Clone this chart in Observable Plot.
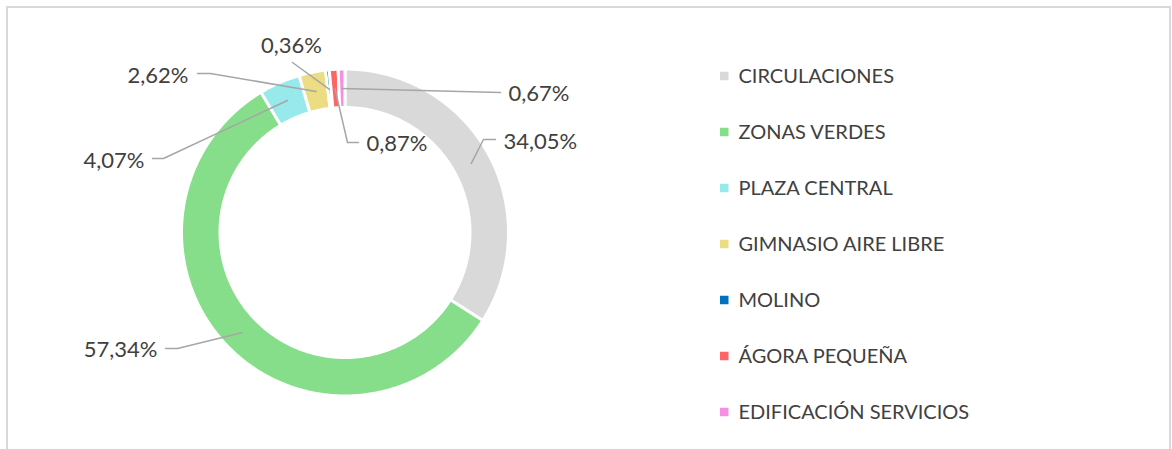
<!DOCTYPE html>
<html><head><meta charset="utf-8">
<script src="https://cdn.jsdelivr.net/npm/d3@7"></script>
<script src="https://cdn.jsdelivr.net/npm/@observablehq/plot@0.6"></script>
<style>
html,body{margin:0;padding:0;background:#fff;}
#chart{position:relative;width:1172px;height:449px;overflow:hidden;background:#fff;}
#frame{position:absolute;left:6px;top:6px;width:1165px;height:460px;border:2px solid #d9d9d9;box-sizing:border-box;}
#chart svg{position:absolute;left:0;top:0;}
</style></head><body>
<div id="chart"><div id="frame"></div></div>
<script>
// ---- data ----
const categories = ["CIRCULACIONES","ZONAS VERDES","PLAZA CENTRAL","GIMNASIO AIRE LIBRE","MOLINO","ÁGORA PEQUEÑA","EDIFICACIÓN SERVICIOS"];
const percentages = [34.05, 57.34, 4.07, 2.62, 0.36, 0.87, 0.67];
const colors = ["#d9d9d9","#86de8a","#98e9ec","#ecdd84","#0070c0","#ff6565","#f48fe4"];

// ---- layout (pixels) ----
const CX = 344.5, CY = 232, R_OUT = 163.5, R_IN = 125, R_MID = 144;
// leader line bends/ends and label anchor points, per category
const labelLayout = [
  {pts:[[483,139],[495,139]], tx:503, ty:141, anchor:"start"},
  {pts:[[177,348],[165,348]], tx:157, ty:349, anchor:"end"},
  {pts:[[163,158],[152,158]], tx:144, ty:160, anchor:"end"},
  {pts:[[210,73],[197,73]],   tx:188, ty:75,  anchor:"end"},
  {pts:[[292,62]],            tx:291, ty:45,  anchor:"middle"},
  {pts:[[347,142],[358,142]], tx:366, ty:143, anchor:"start"},
  {pts:[[500,92]],            tx:508, ty:93,  anchor:"start"}
];
const LEG_X = 720, LEG_Y0 = 76, LEG_DY = 56, LEG_SQ = 8.5;
const FONT = 22, LEG_FONT = 20, TXT = "#404040";

const fmt = v => d3.format(".2f")(v).replace(".", ",") + "%";
const pie = d3.pie().sort(null).value(d => d.value);
const slices = pie(categories.map((c, i) => ({category: c, value: percentages[i]})));

const polar = (a, r) => [CX + r * Math.sin(a), CY - r * Math.cos(a)];

const ringPts = [];
for (const s of slices) {
  const a0 = s.startAngle, a1 = s.endAngle;
  const n = Math.max(2, Math.ceil((a1 - a0) / 0.01));
  const arr = [];
  for (let k = 0; k <= n; k++) { const [x, y] = polar(a0 + (a1 - a0) * k / n, R_OUT); arr.push({category: s.data.category, x, y}); }
  for (let k = n; k >= 0; k--) { const [x, y] = polar(a0 + (a1 - a0) * k / n, R_IN); arr.push({category: s.data.category, x, y}); }
  arr.push(arr[0]);
  ringPts.push(...arr);
}

const leaderPts = [];
const labels = [];
slices.forEach((s, i) => {
  const mid = (s.startAngle + s.endAngle) / 2;
  const [x0, y0] = polar(mid, R_MID);
  const L = labelLayout[i];
  leaderPts.push({category: s.data.category, x: x0, y: y0});
  for (const [x, y] of L.pts) leaderPts.push({category: s.data.category, x, y});
  labels.push({category: s.data.category, text: fmt(s.data.value), x: L.tx, y: L.ty, anchor: L.anchor});
});

const legend = categories.map((c, i) => ({category: c, y: LEG_Y0 + i * LEG_DY}));

const textMark = anchor => Plot.text(labels.filter(d => d.anchor === anchor), {
  x: "x", y: "y", text: "text", textAnchor: anchor, fill: TXT, fontSize: FONT, fontFamily: "Lato"
});

const chart = Plot.plot({
  width: 1172, height: 449, margin: 0,
  x: {domain: [0, 1172], range: [0, 1172], axis: null},
  y: {domain: [0, 449], range: [0, 449], axis: null},
  color: {domain: categories, range: colors},
  style: {background: "transparent", fontFamily: "Lato"},
  marks: [
    Plot.line(ringPts, {x: "x", y: "y", z: "category", fill: "category", stroke: "white", strokeWidth: 3, curve: "linear"}),
    Plot.line(leaderPts, {x: "x", y: "y", z: "category", stroke: "#a6a6a6", strokeWidth: 1.5}),
    textMark("start"), textMark("end"), textMark("middle"),
    Plot.rect(legend, {x1: LEG_X, x2: LEG_X + LEG_SQ, y1: d => d.y - LEG_SQ / 2, y2: d => d.y + LEG_SQ / 2, fill: "category"}),
    Plot.text(legend, {x: LEG_X + 18, y: "y", text: "category", textAnchor: "start", fill: TXT, fontSize: LEG_FONT, fontFamily: "Lato"})
  ]
});
document.getElementById("chart").appendChild(chart);
</script>
</body></html>
